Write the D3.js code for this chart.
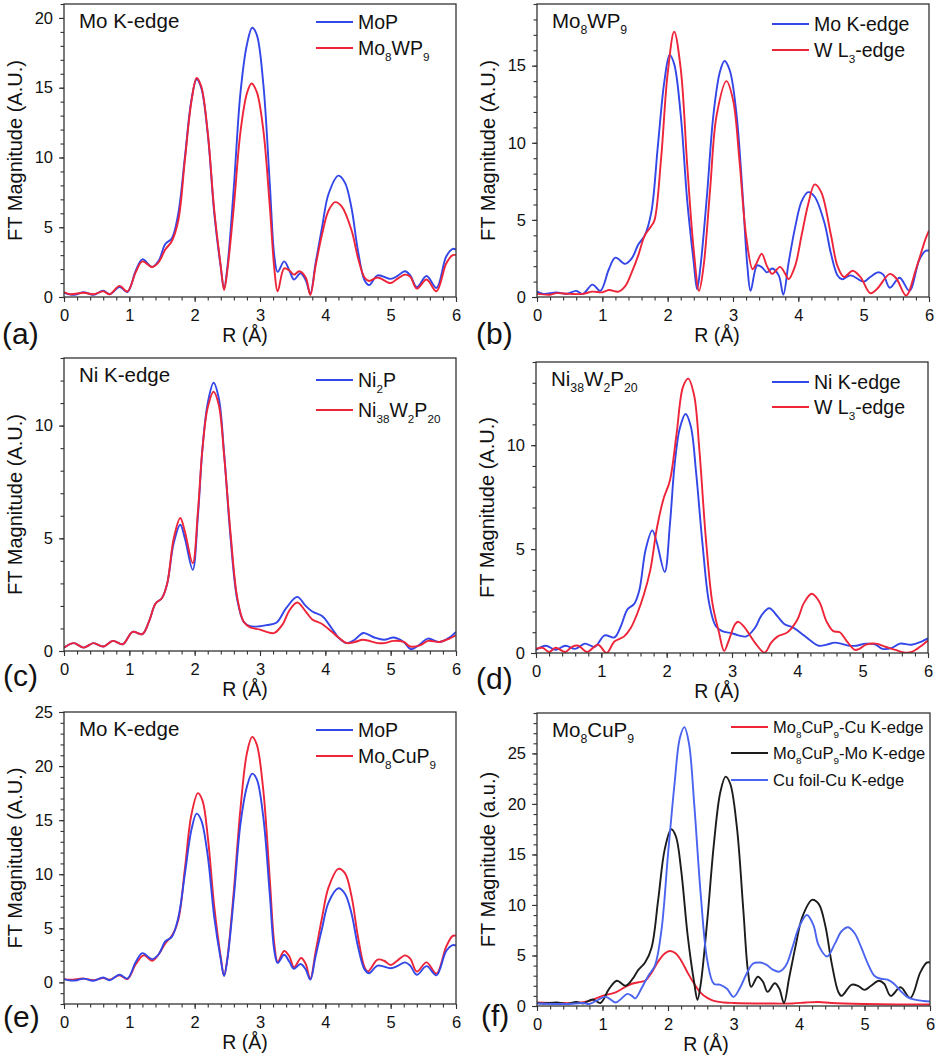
<!DOCTYPE html>
<html>
<head>
<meta charset="utf-8">
<script src="https://cdn.jsdelivr.net/npm/d3@7"></script>
<style>
  body { margin: 0; background: #fff; }
  svg { display: block; }
  text { font-family: "Liberation Sans", Arial, sans-serif; fill: #111; }
</style>
</head>
<body>
<script>
// R axis shared by all panels
const xTicks = [0, 1, 2, 3, 4, 5, 6];

// [R (Å), FT magnitude]
const moP = [[0,0.3],[0.1,0.17],[0.2,0.2],[0.3,0.35],[0.45,0.15],[0.6,0.45],[0.7,0.2],[0.85,0.72],[0.97,0.35],[1.1,1.9],[1.2,2.7],[1.35,2.15],[1.45,2.6],[1.55,3.8],[1.65,4.2],[1.75,6.0],[1.85,10],[1.95,14.1],[2.03,15.6],[2.1,15.0],[2.2,11.7],[2.3,6],[2.4,2.1],[2.45,0.6],[2.5,2.1],[2.6,7.9],[2.7,14.6],[2.8,18.1],[2.88,19.3],[2.95,18.8],[3.05,15.3],[3.15,8.1],[3.22,2.9],[3.27,1.8],[3.37,2.55],[3.45,1.9],[3.52,1.25],[3.62,1.7],[3.7,1.2],[3.77,0.25],[3.85,2.4],[3.95,5.0],[4.05,7.4],[4.2,8.7],[4.3,8.2],[4.4,6.4],[4.5,3.3],[4.6,1.2],[4.67,0.85],[4.8,1.55],[5.0,1.3],[5.1,1.5],[5.22,1.85],[5.3,1.55],[5.4,0.7],[5.55,1.5],[5.7,0.65],[5.85,2.9],[5.95,3.45],[6.0,3.4]];

const mo8wp9Mo = [[0,0.35],[0.1,0.2],[0.3,0.3],[0.45,0.2],[0.6,0.4],[0.7,0.2],[0.85,0.8],[0.97,0.4],[1.1,1.8],[1.2,2.55],[1.35,2.15],[1.45,2.5],[1.55,3.4],[1.65,4.0],[1.75,5.5],[1.85,9.8],[1.95,14.0],[2.03,15.7],[2.1,15.1],[2.2,11.8],[2.3,6.2],[2.4,2.2],[2.45,0.5],[2.5,1.9],[2.6,6.5],[2.7,11.8],[2.8,14.6],[2.87,15.3],[2.95,14.7],[3.05,12.0],[3.15,6.5],[3.22,2.0],[3.27,0.4],[3.37,2.05],[3.45,1.9],[3.52,1.6],[3.6,1.85],[3.7,1.4],[3.77,0.15],[3.85,2.2],[3.95,4.5],[4.05,6.2],[4.15,6.8],[4.25,6.5],[4.4,4.8],[4.5,2.8],[4.6,1.4],[4.67,1.15],[4.8,1.4],[5.0,1.0],[5.1,1.3],[5.22,1.6],[5.3,1.45],[5.4,0.6],[5.55,1.25],[5.7,0.4],[5.85,2.4],[5.95,3.0],[6.0,3.0]];

const mo8wp9W = [[0,0.2],[0.2,0.15],[0.3,0.25],[0.5,0.2],[0.7,0.2],[0.85,0.35],[1.0,0.3],[1.1,0.45],[1.25,0.35],[1.35,0.7],[1.45,1.6],[1.55,2.7],[1.65,4.0],[1.75,4.6],[1.8,5.0],[1.9,9.0],[2.0,14.5],[2.1,17.2],[2.2,14.8],[2.3,8.5],[2.4,3.0],[2.48,0.4],[2.55,2.0],[2.65,7.0],[2.75,11.8],[2.9,14.0],[3.0,12.8],[3.1,8.8],[3.2,4.0],[3.3,1.8],[3.35,2.1],[3.44,2.8],[3.52,2.0],[3.6,1.5],[3.72,1.95],[3.8,1.5],[3.85,1.15],[3.95,2.0],[4.05,4.0],[4.15,6.0],[4.25,7.3],[4.35,6.8],[4.5,4.0],[4.6,2.0],[4.7,1.3],[4.83,1.7],[4.95,1.3],[5.1,0.25],[5.2,0.5],[5.4,1.5],[5.5,1.2],[5.65,0.1],[5.8,1.8],[5.95,3.8],[6.0,4.3]];

const ni2P = [[0,0.15],[0.15,0.35],[0.3,0.15],[0.45,0.35],[0.6,0.2],[0.75,0.45],[0.9,0.3],[1.05,0.85],[1.2,0.75],[1.3,1.3],[1.4,2.1],[1.5,2.35],[1.58,3.0],[1.68,4.8],[1.78,5.6],[1.85,5.0],[1.97,3.6],[2.05,6.0],[2.12,9.0],[2.2,11.0],[2.29,11.9],[2.37,11.2],[2.45,8.8],[2.55,5.0],[2.65,2.3],[2.75,1.3],[2.85,1.1],[3.0,1.1],[3.1,1.15],[3.25,1.25],[3.4,1.9],[3.57,2.4],[3.7,2.0],[3.8,1.75],[3.95,1.55],[4.1,1.0],[4.2,0.6],[4.33,0.35],[4.45,0.5],[4.58,0.8],[4.75,0.6],[4.9,0.5],[5.05,0.6],[5.2,0.4],[5.31,0.08],[5.45,0.3],[5.57,0.55],[5.75,0.4],[5.9,0.6],[6.0,0.85]];

const ni38w2p20Ni = [[0,0.15],[0.15,0.35],[0.3,0.15],[0.45,0.35],[0.6,0.2],[0.75,0.45],[0.9,0.3],[1.05,0.85],[1.2,0.75],[1.3,1.3],[1.4,2.1],[1.5,2.35],[1.58,3.0],[1.68,5.0],[1.78,5.9],[1.85,5.3],[1.97,3.9],[2.05,6.2],[2.12,9.0],[2.2,10.8],[2.29,11.5],[2.37,10.9],[2.45,8.7],[2.55,5.2],[2.65,2.4],[2.75,1.3],[2.85,1.05],[3.0,0.95],[3.1,0.85],[3.22,0.8],[3.35,1.2],[3.45,1.8],[3.57,2.15],[3.7,1.75],[3.8,1.4],[3.95,1.2],[4.1,0.85],[4.2,0.6],[4.33,0.35],[4.45,0.4],[4.58,0.5],[4.8,0.35],[4.9,0.35],[5.05,0.45],[5.2,0.4],[5.3,0.2],[5.45,0.25],[5.57,0.45],[5.75,0.4],[5.9,0.55],[6.0,0.7]];

const ni38w2p20W = [[0,0.2],[0.1,0.25],[0.2,0.05],[0.3,0.25],[0.45,0.05],[0.55,0.3],[0.65,0.35],[0.78,0.05],[0.95,0.4],[1.08,0.0],[1.2,0.55],[1.35,0.8],[1.45,1.2],[1.55,1.9],[1.65,2.8],[1.75,4.0],[1.85,6.0],[1.95,7.4],[2.05,8.3],[2.15,10.5],[2.25,12.8],[2.33,13.2],[2.42,12.4],[2.5,9.8],[2.6,5.5],[2.7,2.4],[2.8,1.0],[2.88,0.1],[2.95,0.6],[3.05,1.4],[3.1,1.5],[3.2,1.2],[3.35,0.5],[3.5,0.02],[3.6,0.5],[3.7,0.8],[3.85,1.0],[4.0,1.6],[4.1,2.4],[4.22,2.85],[4.33,2.5],[4.45,1.5],[4.55,1.05],[4.65,1.0],[4.75,0.6],[4.88,0.15],[4.95,0.2],[5.05,0.4],[5.2,0.45],[5.35,0.3],[5.5,0.15],[5.65,0.02],[5.75,0.05],[5.9,0.35],[6.0,0.6]];

const mo8cup9Mo = [[0,0.3],[0.1,0.25],[0.3,0.35],[0.45,0.2],[0.6,0.4],[0.7,0.25],[0.85,0.65],[0.97,0.3],[1.1,1.7],[1.22,2.5],[1.35,2.0],[1.45,2.6],[1.55,3.6],[1.65,4.3],[1.75,5.8],[1.85,10.5],[1.95,15.5],[2.05,17.5],[2.12,16.8],[2.2,13.5],[2.3,7.0],[2.4,2.3],[2.45,0.6],[2.5,2.2],[2.6,8.5],[2.7,16.0],[2.8,21.2],[2.88,22.7],[2.95,22.0],[3.05,17.8],[3.15,9.5],[3.22,3.5],[3.27,1.9],[3.37,2.9],[3.45,2.4],[3.52,1.4],[3.63,2.25],[3.7,1.7],[3.77,0.3],[3.85,2.8],[3.95,6.0],[4.05,8.8],[4.2,10.5],[4.3,10.1],[4.4,8.0],[4.5,4.2],[4.6,1.4],[4.65,1.0],[4.8,2.1],[4.9,2.0],[5.0,1.6],[5.1,2.0],[5.22,2.5],[5.3,2.2],[5.4,1.0],[5.55,1.85],[5.7,0.8],[5.85,3.3],[5.95,4.3],[6.0,4.3]];

const mo8cup9Cu = [[0,0.35],[0.3,0.3],[0.6,0.3],[0.8,0.5],[1.0,1.0],[1.2,1.35],[1.35,1.9],[1.45,2.2],[1.55,2.35],[1.65,2.5],[1.75,3.3],[1.85,4.4],[1.95,5.2],[2.03,5.45],[2.12,5.2],[2.2,4.5],[2.3,3.3],[2.4,2.2],[2.5,1.3],[2.6,0.8],[2.7,0.5],[2.85,0.35],[3.0,0.3],[3.5,0.25],[3.9,0.25],[4.1,0.35],[4.3,0.4],[4.5,0.3],[5.0,0.2],[5.5,0.15],[6.0,0.15]];

const cuFoil = [[0,0.25],[0.3,0.2],[0.5,0.2],[0.7,0.3],[0.8,0.2],[0.9,0.5],[1.05,0.9],[1.2,0.35],[1.3,0.8],[1.38,1.2],[1.45,1.0],[1.5,0.75],[1.6,1.8],[1.7,3.0],[1.8,4.0],[1.9,7.5],[2.0,15.0],[2.1,22.0],[2.18,26.5],[2.25,27.6],[2.32,26.0],[2.4,20.0],[2.5,11.0],[2.6,4.5],[2.7,2.2],[2.8,2.1],[2.9,1.7],[3.0,0.9],[3.1,1.8],[3.2,3.2],[3.3,4.2],[3.4,4.3],[3.5,4.1],[3.6,3.6],[3.7,3.4],[3.8,4.0],[3.9,5.8],[4.0,7.8],[4.12,9.0],[4.22,8.0],[4.3,6.0],[4.43,4.9],[4.55,6.2],[4.65,7.4],[4.75,7.8],[4.85,7.2],[4.95,5.8],[5.05,4.2],[5.15,3.0],[5.25,2.7],[5.35,2.6],[5.45,2.2],[5.55,1.5],[5.65,0.9],[5.75,0.65],[5.9,0.5],[6.0,0.45]];

const yTicksA = [0, 5, 10, 15, 20];
const yTicksB = [0, 5, 10, 15];
const yTicksC = [0, 5, 10];
const yTicksEF = [0, 5, 10, 15, 20, 25];

const blue = "#3346e8", red = "#ee2438", blueF = "#4a64f0", black = "#1c1c1c";

const panels = [
  { id: "a", box: [64, 4, 456, 297], y: [0, 21], ticks: yTicksA, title: "Mo K-edge", yTitle: "FT Magnitude (A.U.)",
    series: [["MoP", moP, blue], ["Mo{8}WP{9}", mo8wp9Mo, red]],
    leg: { x: 252, y: [18, 44], font: 19.5 }, label: [2, 344], rX: 245 },
  { id: "b", box: [537, 4, 929, 297], y: [0, 19], ticks: yTicksB, title: "Mo{8}WP{9}", yTitle: "FT Magnitude (A.U.)",
    series: [["Mo K-edge", mo8wp9Mo, blue], ["W L{3}-edge", mo8wp9W, red]],
    leg: { x: 235, y: [20, 46], font: 19.5 }, label: [476, 344], rX: 717 },
  { id: "c", box: [64, 358, 456, 651], y: [0, 13], ticks: yTicksC, title: "Ni K-edge", yTitle: "FT Magnitude (A.U.)",
    series: [["Ni{2}P", ni2P, blue], ["Ni{38}W{2}P{20}", ni38w2p20Ni, red]],
    leg: { x: 252, y: [22, 52], font: 19.5 }, label: [3, 686], rX: 245 },
  { id: "d", box: [536, 362, 928, 653], y: [0, 14], ticks: yTicksC, title: "Ni{38}W{2}P{20}", yTitle: "FT Magnitude (A.U.)",
    series: [["Ni K-edge", ni38w2p20Ni, blue], ["W L{3}-edge", ni38w2p20W, red]],
    leg: { x: 236, y: [20, 45], font: 19.5 }, label: [476, 689], rX: 717 },
  { id: "e", box: [64, 712, 456, 1004], y: [-2, 25], ticks: yTicksEF, title: "Mo K-edge", yTitle: "FT Magnitude (A.U.)",
    series: [["Mo{8}CuP{9}", mo8cup9Mo, red], ["MoP", moP, blue]],
    legOrder: [1, 0],
    leg: { x: 252, y: [18, 44], font: 19.5 }, label: [3, 1027], rX: 245 },
  { id: "f", box: [537, 713, 930, 1006], y: [0, 29], ticks: yTicksEF, title: "Mo{8}CuP{9}", yTitle: "FT Magnitude (a.u.)",
    series: [["Mo{8}CuP{9}-Cu K-edge", mo8cup9Cu, red], ["Mo{8}CuP{9}-Mo K-edge", mo8cup9Mo, black], ["Cu foil-Cu K-edge", cuFoil, blueF]],
    leg: { x: 194, y: [14, 40, 67], font: 16.5 }, label: [481, 1026], rX: 706 }
];

const svg = d3.select("body").append("svg")
  .attr("width", 938)
  .attr("height", 1059);

// text with {subscript} markup
function richText(sel, str, size) {
  const parts = str.split(/(\{[^}]*\})/).filter(s => s.length);
  let shifted = false;
  parts.forEach(p => {
    const isSub = p[0] === "{";
    const t = sel.append("tspan").text(isSub ? p.slice(1, -1) : p);
    if (isSub) {
      t.attr("font-size", size * 0.6).attr("dy", shifted ? 0 : size * 0.3);
      shifted = true;
    } else {
      t.attr("font-size", size).attr("dy", shifted ? -size * 0.3 : 0);
      shifted = false;
    }
  });
}

panels.forEach(p => {
  const [l, t, r, b] = p.box;
  const g = svg.append("g");

  const x = d3.scaleLinear().domain([0, 6]).range([l, r]);
  const y = d3.scaleLinear().domain(p.y).range([b, t]);

  // minor ticks
  g.append("g")
    .attr("transform", "translate(0," + b + ")")
    .call(d3.axisBottom(x).tickValues(d3.range(0, 6.001, 0.2)).tickSize(3.5).tickFormat(""))
    .call(a => a.select(".domain").remove());
  g.append("g")
    .attr("transform", "translate(" + l + ",0)")
    .call(d3.axisLeft(y).tickValues(d3.range(Math.ceil(p.y[0]), p.y[1] + 0.001, 1)).tickSize(3.5).tickFormat(""))
    .call(a => a.select(".domain").remove());

  // major ticks
  g.append("g")
    .attr("transform", "translate(0," + b + ")")
    .call(d3.axisBottom(x).tickValues(xTicks).tickSize(5).tickPadding(7).tickFormat(d3.format("d")))
    .call(a => a.select(".domain").remove())
    .attr("font-size", 16.5).attr("font-family", null);
  g.append("g")
    .attr("transform", "translate(" + l + ",0)")
    .call(d3.axisLeft(y).tickValues(p.ticks).tickSize(5).tickPadding(6).tickFormat(d3.format("d")))
    .call(a => a.select(".domain").remove())
    .attr("font-size", 16.5).attr("font-family", null);

  g.selectAll(".tick line").attr("stroke", "#333").attr("stroke-width", 1.1);

  // curves
  const clipId = "clip-" + p.id;
  svg.append("clipPath").attr("id", clipId)
    .append("rect").attr("x", l).attr("y", t).attr("width", r - l).attr("height", b - t);

  const line = d3.line()
    .x(d => x(d[0]))
    .y(d => y(d[1]))
    .curve(d3.curveCatmullRom.alpha(0.5));

  g.append("g").attr("clip-path", "url(#" + clipId + ")")
    .selectAll("path")
    .data(p.series)
    .join("path")
      .attr("d", d => line(d[1]))
      .attr("fill", "none")
      .attr("stroke", d => d[2])
      .attr("stroke-width", 1.9);

  // frame
  g.append("rect")
    .attr("x", l).attr("y", t)
    .attr("width", r - l).attr("height", b - t)
    .attr("fill", "none")
    .attr("stroke", "#333")
    .attr("stroke-width", 1.3);

  // title inside the box
  richText(g.append("text").attr("x", l + 15).attr("y", t + 24), p.title, 20.5);

  // legend
  const order = p.legOrder || p.series.map((d, i) => i);
  order.forEach((si, i) => {
    const s = p.series[si];
    const ly = t + p.leg.y[i];
    g.append("line")
      .attr("x1", l + p.leg.x).attr("x2", l + p.leg.x + 37)
      .attr("y1", ly).attr("y2", ly)
      .attr("stroke", s[2]).attr("stroke-width", 1.9);
    richText(g.append("text").attr("x", l + p.leg.x + 42).attr("y", ly + p.leg.font * 0.36), s[0], p.leg.font);
  });

  // axis titles
  g.append("text")
    .attr("transform", "translate(" + (l - 49) + "," + ((t + b) / 2) + ") rotate(-90)")
    .attr("text-anchor", "middle")
    .attr("dominant-baseline", "central")
    .attr("font-size", 20)
    .text(p.yTitle);
  g.append("text")
    .attr("x", p.rX).attr("y", b + 45)
    .attr("text-anchor", "middle")
    .attr("font-size", 19.5)
    .text("R (Å)");

  // panel letter
  g.append("text")
    .attr("x", p.label[0]).attr("y", p.label[1])
    .attr("font-size", 30)
    .text("(" + p.id + ")");
});
</script>
</body>
</html>
